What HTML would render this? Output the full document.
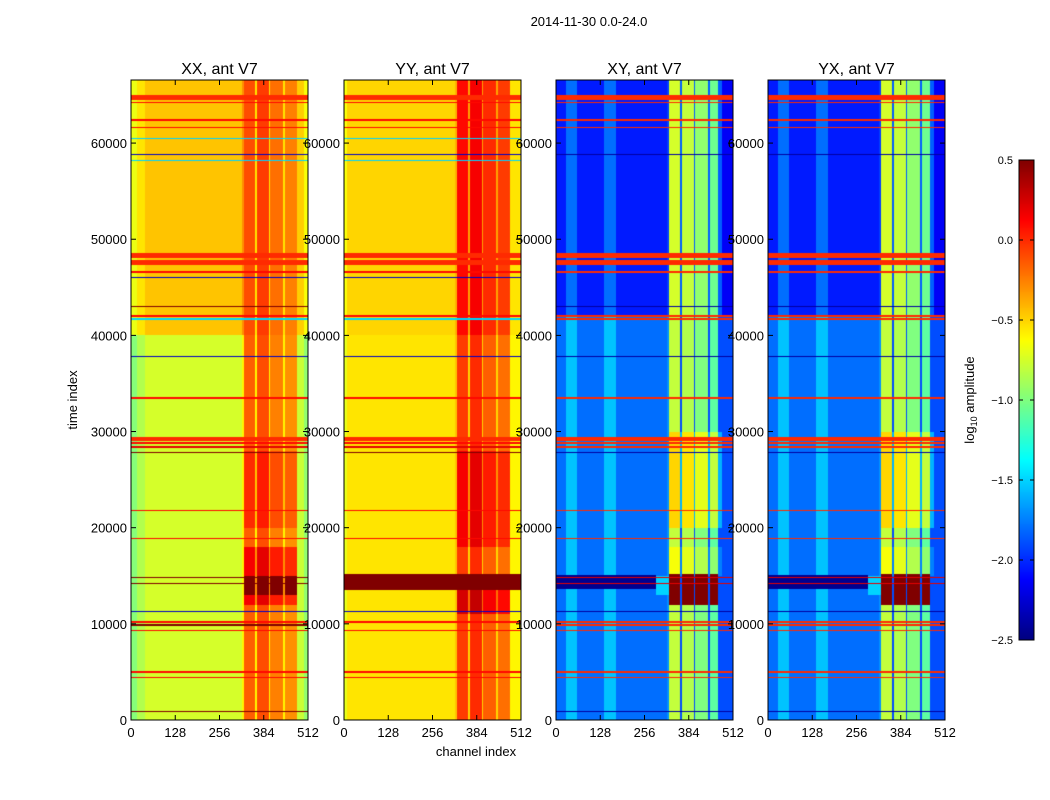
<!DOCTYPE html>
<html><head><meta charset="utf-8">
<style>
body{margin:0;background:#fff;width:1050px;height:800px;overflow:hidden;font-family:"Liberation Sans",sans-serif;}
#root{position:relative;width:1050px;height:800px;}
canvas{position:absolute;}
svg{position:absolute;left:0;top:0;}
</style></head>
<body><div id="root">
<canvas id="c0" width="177" height="640" style="left:131px;top:80px"></canvas>
<canvas id="c1" width="177" height="640" style="left:344px;top:80px"></canvas>
<canvas id="c2" width="177" height="640" style="left:556px;top:80px"></canvas>
<canvas id="c3" width="177" height="640" style="left:768px;top:80px"></canvas>
<canvas id="cb" width="15" height="480" style="left:1019px;top:160px"></canvas>
<svg id="ov" width="1050" height="800"></svg>
</div>
<script>
// ---- data ----
const panelTitles = ["XX, ant V7","YY, ant V7","XY, ant V7","YX, ant V7"];
const xTicks = [0,128,256,384,512];
const yTicks = [0,10000,20000,30000,40000,50000,60000];
const cbTicks = [-2.5,-2.0,-1.5,-1.0,-0.5,0.0,0.5];
const tMax = 66560, chMax = 512, vMin = -2.5, vMax = 0.5;
// column segments [chStart, chEnd, value]
const colXX = [[0,16,-0.98],[16,40,-0.85],[40,320,-0.75],[320,327,-0.6],[327,358,-0.15],[358,364,-0.6],[364,399,-0.1],[399,402,-0.6],[402,439,-0.25],[439,445,-0.6],[445,480,-0.3],[480,500,-0.78],[500,512,-0.95]];
const colYY = [[0,10,-0.7],[10,320,-0.55],[320,327,-0.45],[327,358,-0.05],[358,364,-0.5],[364,399,0.0],[399,402,-0.5],[402,439,-0.15],[439,445,-0.5],[445,480,-0.2],[480,512,-0.6]];
const colXY = [[0,30,-1.8],[30,60,-1.55],[60,140,-1.8],[140,175,-1.55],[175,320,-1.8],[320,327,-1.7],[327,358,-0.8],[358,364,-1.9],[364,399,-0.85],[399,402,-1.9],[402,439,-1.0],[439,445,-1.9],[445,470,-1.1],[470,512,-1.9]];
const colYX = [[0,30,-1.8],[30,60,-1.55],[60,140,-1.8],[140,175,-1.55],[175,320,-1.8],[320,327,-1.7],[327,358,-0.8],[358,364,-1.9],[364,399,-0.85],[399,402,-1.9],[402,439,-1.0],[439,445,-1.9],[445,470,-1.1],[470,512,-1.9]];
// time modifiers [t0, t1, dLeft, dBand]
const timeXX = [[40000,66560,0.3,0.05],[12000,18000,0,0.3],[20000,28000,0,0.15]];
const timeYY = [[40000,66560,0.05,0.15],[18000,28000,0,0.2],[11000,13500,0,0.3]];
const timeXY = [[42000,66560,-0.25,0.05],[20000,30000,0,0.3],[15000,18000,0,0.15]];
const timeYX = [[42000,66560,-0.25,0.05],[20000,30000,0,0.3],[15000,18000,0,0.15]];
// blocks [t0, t1, ch0, ch1, value]
const blockXX = [[13000,15000,327,358,0.55],[13000,15000,364,399,0.55],[13000,15000,402,439,0.55],[13000,15000,445,480,0.55]];
const blockYY = [[13500,15200,0,512,0.55]];
const blockXY = [[13600,15100,0,290,-2.45],[13000,15000,290,327,-1.5],[12000,15200,327,358,0.5],[12000,15200,364,399,0.5],[12000,15200,402,439,0.5],[12000,15200,445,470,0.5]];
const blockYX = [[13600,15100,0,290,-2.45],[13000,15000,290,327,-1.5],[12000,15200,327,358,0.5],[12000,15200,364,399,0.5],[12000,15200,402,439,0.5],[12000,15200,445,470,0.5]];
// horizontal lines: time, width, value per panel (null = none)
const lineT  = [64700,64200,62400,61600,60500,58800,58200,48300,47600,46600,46000,43000,42000,41700,37800,33500,29200,28800,28400,27800,21800,18900,14800,14200,11300,10200,9900,9300,5000,4400,900];
const lineW  = [500,150,150,150,150,150,150,500,500,150,150,150,150,150,150,150,450,150,150,150,150,150,150,150,150,150,150,150,150,150,150];
const lineXX = [0.0,0.1,0.1,0.1,-1.5,-2.3,-1.5,0.0,0.0,0.1,-2.3,0.5,0.1,-1.5,-2.3,0.1,0.0,0.1,0.2,0.5,0.1,0.1,0.5,0.5,-2.3,0.1,0.5,0.1,0.1,0.1,0.5];
const lineYY = [0.0,0.1,0.1,0.1,-1.5,-2.3,-1.5,0.0,0.0,0.1,-2.3,null,0.1,-1.5,-2.3,0.1,0.0,0.1,0.2,0.5,0.1,0.1,null,null,-2.3,0.1,null,0.1,0.1,0.1,null];
const lineXY = [0.0,0.0,0.0,0.0,null,-2.4,null,0.0,0.0,0.0,null,-2.4,0.0,0.0,-2.4,0.0,0.0,0.0,0.0,-2.4,0.0,0.0,0.2,0.2,-2.4,0.0,0.0,0.0,0.0,0.0,-2.4];
const lineYX = [0.0,0.0,0.0,0.0,null,-2.4,null,0.0,0.0,0.0,null,-2.4,0.0,0.0,-2.4,0.0,0.0,0.0,0.0,-2.4,0.0,0.0,0.2,0.2,-2.4,0.0,0.0,0.0,0.0,0.0,-2.4];

const panels = [
 {col:colXX,time:timeXX,block:blockXX,line:lineXX,left:131},
 {col:colYY,time:timeYY,block:blockYY,line:lineYY,left:344},
 {col:colXY,time:timeXY,block:blockXY,line:lineXY,left:556},
 {col:colYX,time:timeYX,block:blockYX,line:lineYX,left:768}];
const PW=177, PH=640, PT=80;
function xScale(ch){return ch/chMax*PW;}
function yScale(t){return PH - t/tMax*PH;}
function jet(v){
  let x=(v-vMin)/(vMax-vMin); x=Math.max(0,Math.min(1,x));
  const f=(a)=>Math.max(0,Math.min(1,a));
  return [f(1.5-Math.abs(4*x-3))*255, f(1.5-Math.abs(4*x-2))*255, f(1.5-Math.abs(4*x-1))*255];
}
panels.forEach((p,i)=>{
  const cv=document.getElementById('c'+i), ctx=cv.getContext('2d');
  const img=ctx.createImageData(PW,PH);
  for(let py=0;py<PH;py++){
    const t=(PH-py-0.5)/PH*tMax;
    for(let px=0;px<PW;px++){
      const ch=(px+0.5)/PW*chMax;
      let v=-1;
      for(const s of p.col){ if(ch>=s[0]&&ch<s[1]){v=s[2];break;} }
      const band = ch>=327&&ch<480;
      for(const m of p.time){ if(t>=m[0]&&t<m[1]) v+= band?m[3]:m[2]; }
      for(const b of p.block){ if(t>=b[0]&&t<b[1]&&ch>=b[2]&&ch<b[3]) v=b[4]; }
      for(let k=0;k<lineT.length;k++){
        const lv=p.line[k]; if(lv===null) continue;
        const hw=Math.max(lineW[k],110)/2;
        if(Math.abs(t-lineT[k])<hw) v=lv;
      }
      const c=jet(v), o=(py*PW+px)*4;
      img.data[o]=c[0];img.data[o+1]=c[1];img.data[o+2]=c[2];img.data[o+3]=255;
    }
  }
  ctx.putImageData(img,0,0);
});
// colorbar
(function(){
  const cv=document.getElementById('cb'),ctx=cv.getContext('2d');
  for(let y=0;y<480;y++){const v=vMax-(y+0.5)/480*(vMax-vMin);const c=jet(v);
    ctx.fillStyle=`rgb(${c[0]|0},${c[1]|0},${c[2]|0})`;ctx.fillRect(0,y,15,1);}
})();
// overlay
const NS="http://www.w3.org/2000/svg", ov=document.getElementById('ov');
function el(tag,attrs,txt){const e=document.createElementNS(NS,tag);for(const k in attrs)e.setAttribute(k,attrs[k]);if(txt!==undefined)e.textContent=txt;ov.appendChild(e);return e;}
function fmt(v){return (v<0?"\u2212":"")+Math.abs(v).toFixed(1);}
let t0=el('text',{x:589,y:26,'font-size':13,'text-anchor':'middle'},"2014-11-30 0.0-24.0");


panels.forEach((p,i)=>{
  const L=p.left;
  const fr=el('rect',{x:L,y:PT,width:PW,height:PH,fill:'none',stroke:'#000','stroke-width':1});
  
  
  const tt=el('text',{x:L+PW/2,y:74,'font-size':16,'text-anchor':'middle'},panelTitles[i]);
  
  
  xTicks.forEach(v=>{
    const x=L+xScale(v);
    el('line',{x1:x,y1:PT+PH,x2:x,y2:PT+PH-5,stroke:'#000'});
    el('line',{x1:x,y1:PT,x2:x,y2:PT+5,stroke:'#000'});
    const tl=el('text',{x:x,y:737,'font-size':13,'text-anchor':'middle'},String(v));
    
    
  });
  yTicks.forEach(v=>{
    const y=PT+yScale(v);
    el('line',{x1:L,y1:y,x2:L+5,y2:y,stroke:'#000'});
    el('line',{x1:L+PW,y1:y,x2:L+PW-5,y2:y,stroke:'#000'});
    const yl=el('text',{x:L-4,y:y+5,'font-size':13,'text-anchor':'end'},String(v));
    
    
  });
});
let yt=el('text',{x:77,y:400,'font-size':13,'text-anchor':'middle',transform:'rotate(-90 77 400)'},"time index");


let xt=el('text',{x:476,y:756,'font-size':13,'text-anchor':'middle'},"channel index");


let cf=el('rect',{x:1019,y:160,width:15,height:480,fill:'none',stroke:'#000'});


cbTicks.forEach(v=>{
  const y=160+(vMax-v)/(vMax-vMin)*480;
  el('line',{x1:1019,y1:y,x2:1023,y2:y,stroke:'#000'});
  el('line',{x1:1034,y1:y,x2:1030,y2:y,stroke:'#000'});
  const cl=el('text',{x:1013,y:y+4,'font-size':11,'text-anchor':'end'},fmt(v));
  
  
});
let cbl=el('text',{x:974,y:400,'font-size':13,'text-anchor':'middle',transform:'rotate(-90 974 400)'});
cbl.innerHTML='log<tspan font-size="9" dy="3">10</tspan><tspan dy="-3"> amplitude</tspan>';


</script>
</body></html>
